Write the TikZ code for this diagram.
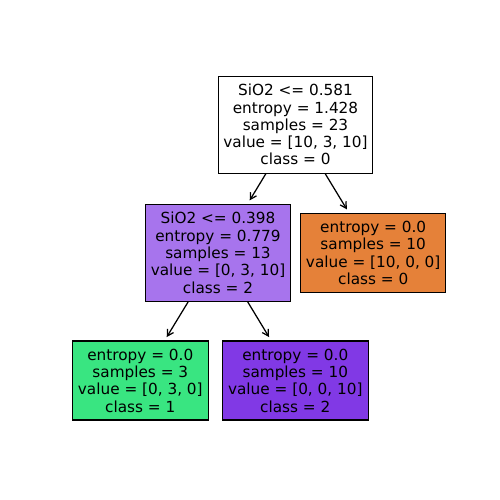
\documentclass[tikz,border=0pt]{standalone}
\usepackage{fontspec}
\setmainfont{DejaVu Sans}
\usetikzlibrary{arrows.meta}
\definecolor{leafpurple}{RGB}{129,57,229}
\definecolor{midpurple}{RGB}{167,116,237}
\definecolor{leafgreen}{RGB}{57,229,129}
\definecolor{leaforange}{RGB}{229,129,57}
\tikzset{
  treebox/.style={draw=black, line width=0.9pt, rectangle, inner sep=0pt, align=center,
    font=\fontsize{11}{12.45}\selectfont},
  edge/.style={draw=black, line width=0.9pt, -{Straight Barb[length=4.4pt,width=5pt]}, shorten >=2.8pt}
}
\begin{document}
\begin{tikzpicture}[x=0.72pt, y=-0.72pt]
\useasboundingbox (0,0) rectangle (500,500);
\node[treebox, fill=white, minimum width=154*0.72pt, minimum height=97*0.72pt] (root) at (295.5,124.7)
  {SiO2 <= 0.581\\entropy = 1.428\\samples = 23\\value = [10, 3, 10]\\class = 0};
\node[treebox, fill=midpurple, minimum width=145*0.72pt, minimum height=97*0.72pt] (left) at (218,252.8)
  {SiO2 <= 0.398\\entropy = 0.779\\samples = 13\\value = [0, 3, 10]\\class = 2};
\node[treebox, fill=leaforange, minimum width=145*0.72pt, minimum height=79*0.72pt] (right) at (373.2,252.8)
  {entropy = 0.0\\samples = 10\\value = [10, 0, 0]\\class = 0};
\node[treebox, fill=leafgreen, minimum width=136*0.72pt, minimum height=79*0.72pt] (green) at (140.3,380.5)
  {entropy = 0.0\\samples = 3\\value = [0, 3, 0]\\class = 1};
\node[treebox, fill=leafpurple, minimum width=146*0.72pt, minimum height=79*0.72pt] (purple) at (295.3,380.5)
  {entropy = 0.0\\samples = 10\\value = [0, 0, 10]\\class = 2};
\draw[edge] (root) -- (left);
\draw[edge] (root) -- (right);
\draw[edge] (left) -- (green);
\draw[edge] (left) -- (purple);
\end{tikzpicture}
\end{document}
